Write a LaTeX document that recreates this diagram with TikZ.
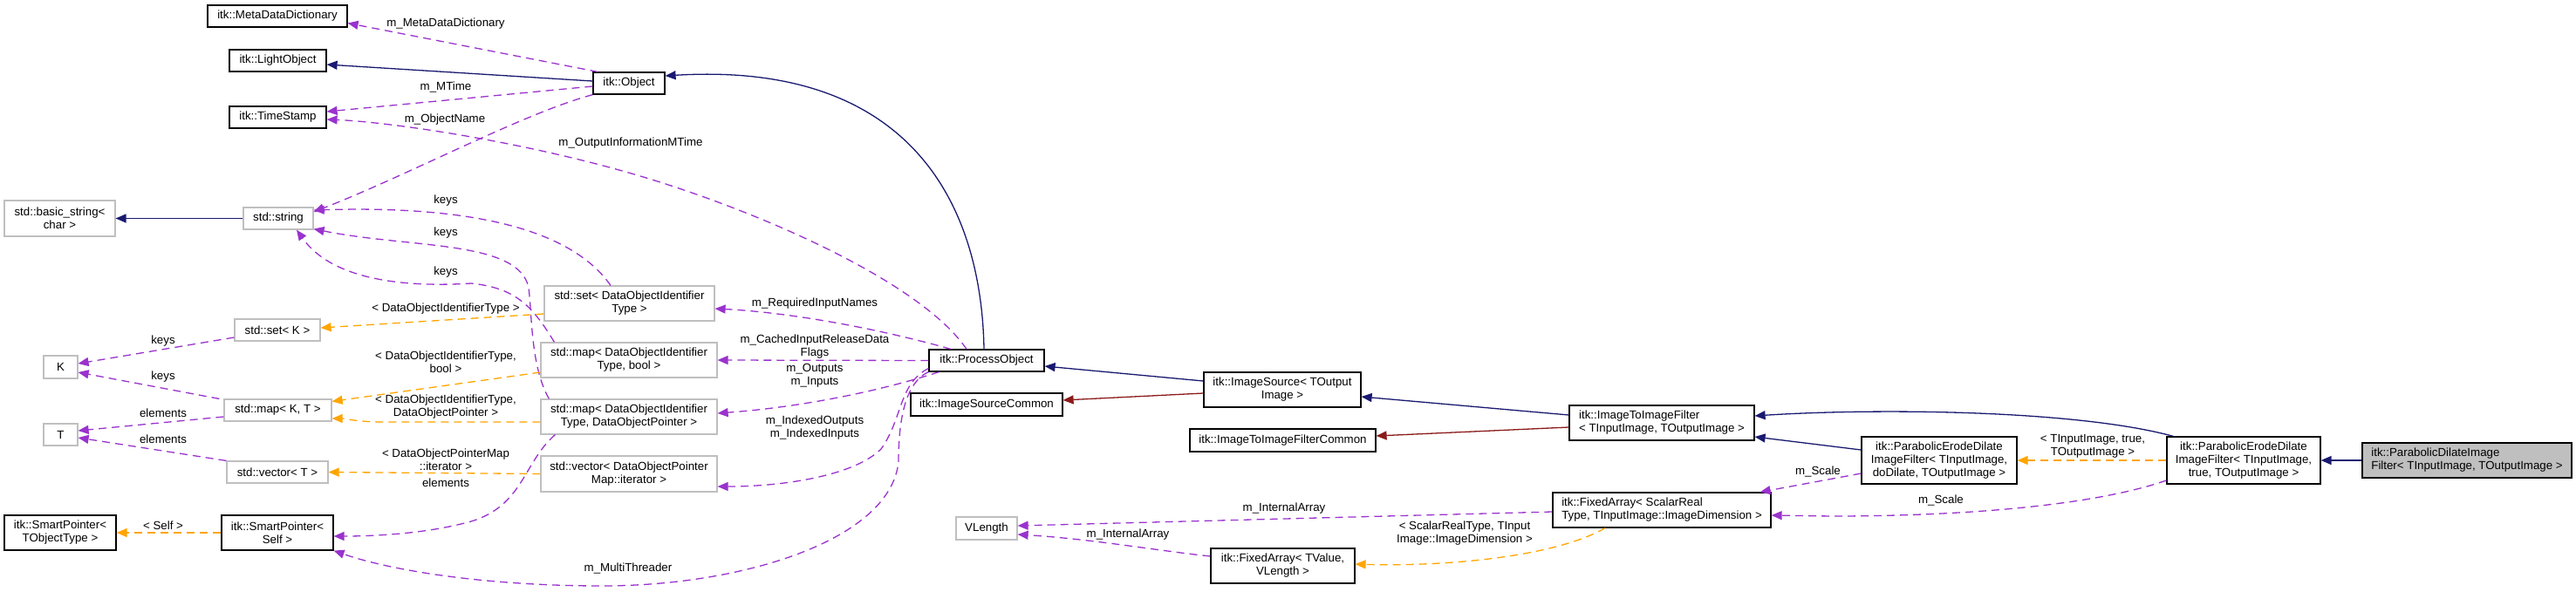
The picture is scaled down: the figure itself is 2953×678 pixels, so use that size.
\documentclass[tikz,border=0pt]{standalone}
\usepackage{fontspec}
\setmainfont{Liberation Sans}
\usetikzlibrary{arrows.meta}
\definecolor{navy}{HTML}{191970}
\definecolor{orchid}{HTML}{9A32CD}
\definecolor{fire}{HTML}{8B1A1A}
\definecolor{orng}{HTML}{FFA500}
\definecolor{undoc}{HTML}{BFBFBF}
\begin{document}
\begin{tikzpicture}[x=1pt,y=-1pt,
  font=\fontsize{13.3}{15}\selectfont,
  cls/.style={draw=black, line width=1.2pt, inner sep=2pt, align=center},
  ext/.style={draw=undoc, line width=1.2pt, inner sep=2pt, align=center},
  sel/.style={cls, fill=undoc},
  tip/.style={-{Triangle[length=12pt,width=10pt]}},
  inhedge/.style={navy, line width=1.3pt, tip},
  privedge/.style={fire, line width=1.3pt, tip},
  usedge/.style={orchid, line width=1.3pt, dash pattern=on 9pt off 6pt, tip},
  tpledge/.style={orng, line width=1.3pt, dash pattern=on 9pt off 6pt, tip},
  lab/.style={inner sep=0pt, align=center, text=black}]
\useasboundingbox (0,0) rectangle (2953,678);

% nodes
\node[cls, minimum width=160pt, minimum height=25pt] (mdd) at (318,18.5) {itk::MetaDataDictionary};
\node[cls, minimum width=111pt, minimum height=25pt] (lo) at (318.5,69.5) {itk::LightObject};
\node[cls, minimum width=111pt, minimum height=25pt] (ts) at (318.5,134.5) {itk::TimeStamp};
\node[cls, minimum width=82pt, minimum height=25pt] (obj) at (721,95.5) {itk::Object};
\node[ext, minimum width=127pt, minimum height=41pt] (bstr) at (68.5,250.5) {std::basic\_string<\\ char >};
\node[ext, minimum width=80pt, minimum height=25pt] (str) at (319,250.5) {std::string};
\node[ext, minimum width=98pt, minimum height=25pt] (setK) at (318,378.5) {std::set< K >};
\node[ext, minimum width=39pt, minimum height=26pt] (K) at (69.5,421) {K};
\node[ext, minimum width=123pt, minimum height=25pt] (mapKT) at (318.5,470.5) {std::map< K, T >};
\node[ext, minimum width=39pt, minimum height=25pt] (T) at (69.5,498.5) {T};
\node[ext, minimum width=116pt, minimum height=25pt] (vecT) at (318,541.5) {std::vector< T >};
\node[cls, minimum width=128pt, minimum height=40pt] (spT) at (69,611) {itk::SmartPointer<\\ TObjectType >};
\node[cls, minimum width=128pt, minimum height=40pt] (spS) at (318,611) {itk::SmartPointer<\\ Self >};
\node[ext, minimum width=195pt, minimum height=40pt] (setD) at (721.5,348) {std::set< DataObjectIdentifier\\ Type >};
\node[ext, minimum width=202pt, minimum height=40pt] (mapB) at (721,413) {std::map< DataObjectIdentifier\\ Type, bool >};
\node[ext, minimum width=202pt, minimum height=40pt] (mapP) at (721,478) {std::map< DataObjectIdentifier\\ Type, DataObjectPointer >};
\node[ext, minimum width=202pt, minimum height=41pt] (vecP) at (721,543.5) {std::vector< DataObjectPointer\\ Map::iterator >};
\node[cls, minimum width=132pt, minimum height=25pt] (po) at (1131,413.5) {itk::ProcessObject};
\node[cls, minimum width=174pt, minimum height=26pt] (isc) at (1131,464) {itk::ImageSourceCommon};
\node[ext, minimum width=70pt, minimum height=26pt] (vl) at (1131,606) {VLength};
\node[cls, minimum width=180pt, minimum height=40pt] (is) at (1470,447) {itk::ImageSource< TOutput\\ Image >};
\node[cls, minimum width=213pt, minimum height=26pt] (itifc) at (1470.5,505) {itk::ImageToImageFilterCommon};
\node[cls, minimum width=165pt, minimum height=40pt] (fav) at (1470.5,649) {itk::FixedArray< TValue,\\ VLength >};
\node[cls, minimum width=212pt, minimum height=40pt, align=left] (itif) at (1905,485) {itk::ImageToImageFilter\\< TInputImage, TOutputImage >};
\node[cls, minimum width=250pt, minimum height=40pt, align=left] (fas) at (1905,585) {itk::FixedArray< ScalarReal\\Type, TInputImage::ImageDimension >};
\node[cls, minimum width=178pt, minimum height=54pt] (ped) at (2223,528) {itk::ParabolicErodeDilate\\ImageFilter< TInputImage,\\ doDilate, TOutputImage >};
\node[cls, minimum width=176pt, minimum height=54pt] (pet) at (2572,528) {itk::ParabolicErodeDilate\\ImageFilter< TInputImage,\\ true, TOutputImage >};
\node[sel, minimum width=240pt, minimum height=40pt, align=left] (selnode) at (2828,528) {itk::ParabolicDilateImage\\Filter< TInputImage, TOutputImage >};

% inheritance
\draw[inhedge] ([yshift=2.5pt]obj.west) -- ([yshift=-4.5pt]lo.east);
\draw[inhedge] (str.west) -- (bstr.east);
\draw[inhedge] ([xshift=-3pt]po.north) .. controls (1125,230) and (1040,70) .. ([yshift=8.5pt]obj.east);
\draw[inhedge] ([yshift=10pt]is.west) -- ([yshift=-6.5pt]po.east);
\draw[privedge] ([yshift=-4pt]is.west) -- ([yshift=5pt]isc.east);
\draw[inhedge] ([yshift=9pt]itif.west) -- ([yshift=-8pt]is.east);
\draw[privedge] ([yshift=-5pt]itif.west) -- ([yshift=5pt]itifc.east);
\draw[inhedge] ([yshift=12pt]ped.west) -- ([yshift=-16pt]itif.east);
\draw[inhedge] ([xshift=8pt]pet.north west) .. controls (2380,470) and (2150,468) .. ([yshift=8pt]itif.east);
\draw[inhedge] (selnode.west) -- (pet.east);

% usage (purple dashed)
\draw[usedge] ([xshift=6pt]obj.north west) -- ([yshift=-8pt]mdd.east);
\node[lab] (l1) at (511,27) {m\_MetaDataDictionary};
\draw[usedge] ([yshift=-3.5pt]obj.west) -- ([yshift=6.5pt]ts.east);
\node[lab] (l2) at (511,100) {m\_MTime};
\draw[usedge] ([xshift=-23pt]po.north) .. controls (1060,330) and (900,255) .. (760,210)
  .. controls (620,165) and (450,140) .. ([yshift=-2.5pt]ts.east);
\node[lab] (l3) at (723,164) {m\_OutputInformationMTime};
\draw[usedge] (obj.south west) .. controls (600,130) and (470,200) .. ([yshift=7.5pt]str.east);
\node[lab] (l4) at (510,137) {m\_ObjectName};
\draw[usedge] ([xshift=-21.5pt]setD.north) .. controls (660,270) and (560,235) .. ([yshift=9.5pt]str.east);
\node[lab] (l5) at (511,230) {keys};
\draw[usedge] ([xshift=10pt]mapP.north west) .. controls (608,420) and (610,360) .. (606,330)
  .. controls (595,275) and (470,285) .. ([yshift=1pt]str.south east);
\node[lab] (l6) at (511,267) {keys};
\draw[usedge] ([xshift=16pt]mapB.north west) .. controls (610,350) and (590,330) .. (540,325)
  .. controls (460,330) and (380,320) .. ([xshift=21pt]str.south);
\node[lab] (l7) at (511,312) {keys};
\draw[usedge] ([yshift=-8.5pt]setK.west) -- ([yshift=4pt]K.east);
\node[lab] (l8) at (187,391) {keys};
\draw[usedge] ([xshift=-5pt]mapKT.north west) -- ([yshift=-6pt]K.east);
\node[lab] (l9) at (187,432) {keys};
\draw[usedge] ([yshift=-7.5pt]mapKT.west) -- ([yshift=4.5pt]T.east);
\node[lab] (l10) at (187,474) {elements};
\draw[usedge] (vecT.north west) -- ([yshift=-3.5pt]T.east);
\node[lab] (l11) at (187,504) {elements};
\draw[usedge] ([xshift=-41pt]po.north) .. controls (1000,375) and (900,358) .. ([yshift=-6pt]setD.east);
\node[lab] (l12) at (934,348) {m\_RequiredInputNames};
\draw[usedge] (po.west) -- (mapB.east);
\node[lab] (l13) at (934,398) {m\_CachedInputReleaseData\\Flags};
\draw[usedge] ([xshift=12pt]po.south west) .. controls (1020,445) and (930,466) .. ([yshift=4pt]mapP.east);
\node[lab] (l14) at (934,431) {m\_Outputs\\m\_Inputs};
\draw[usedge] ([yshift=-9pt]po.west) .. controls (1030,440) and (1035,480) .. (1010,515)
  .. controls (980,545) and (900,558) .. ([yshift=-14.5pt]vecP.east);
\node[lab] (l15) at (934,491) {m\_IndexedOutputs\\m\_IndexedInputs};
\draw[usedge] (po.south west) .. controls (1035,440) and (1030,490) .. (1030,530)
  .. controls (1020,620) and (850,672) .. (690,672)
  .. controls (560,672) and (450,655) .. (spS.south east);
\node[lab] (l16) at (720,652) {m\_MultiThreader};
\draw[usedge] ([xshift=17pt]mapP.south west) .. controls (600,530) and (600,580) .. (540,598)
  .. controls (490,612) and (430,615) .. ([yshift=-4pt]spS.east);
\node[lab] (l17) at (511,554) {elements};
\draw[usedge] ([yshift=-15pt]ped.west) -- ([xshift=-13pt]fas.north east);
\node[lab] (l18) at (2084,541) {m\_Scale};
\draw[usedge] ([yshift=-23pt]pet.west) .. controls (2400,580) and (2250,592) .. (2100,592)
  -- ([yshift=-6pt]fas.east);
\node[lab] (l19) at (2225,574) {m\_Scale};
\draw[usedge] ([yshift=-2pt]fas.west) -- ([yshift=3pt]vl.east);
\node[lab] (l20) at (1472,583) {m\_InternalArray};
\draw[usedge] ([yshift=11pt]fav.west) .. controls (1330,632) and (1250,618) .. ([yshift=-7pt]vl.east);
\node[lab] (l21) at (1293,613) {m\_InternalArray};

% template instances (orange dashed)
\draw[tpledge] ([yshift=-12pt]setD.west) -- ([yshift=2.5pt]setK.east);
\node[lab] (t1) at (511,354) {< DataObjectIdentifierType >};
\draw[tpledge] ([yshift=-14pt]mapB.west) -- ([yshift=-3pt]mapKT.north east);
\node[lab] (t2) at (511,415) {< DataObjectIdentifierType,\\ bool >};
\draw[tpledge] ([yshift=-6pt]mapP.west) -- (440,484) .. controls (410,484) and (395,480) .. ([yshift=-9.5pt]mapKT.east);
\node[lab] (t3) at (511,467) {< DataObjectIdentifierType,\\ DataObjectPointer >};
\draw[tpledge] (vecP.west) -- (vecT.east);
\node[lab] (t4) at (511,527) {< DataObjectPointerMap\\ ::iterator >};
\draw[tpledge] (spS.west) -- (spT.east);
\node[lab] (t5) at (187,603) {< Self >};
\draw[tpledge] ([xshift=-65pt]fas.south) .. controls (1780,640) and (1650,650) .. ([yshift=2pt]fav.east);
\node[lab] (t6) at (1679,612) {< ScalarRealType, TInput\\ Image::ImageDimension >};
\draw[tpledge] (pet.west) -- (ped.east);
\node[lab] (t7) at (2399,512) {< TInputImage, true,\\ TOutputImage >};
\end{tikzpicture}
\end{document}
